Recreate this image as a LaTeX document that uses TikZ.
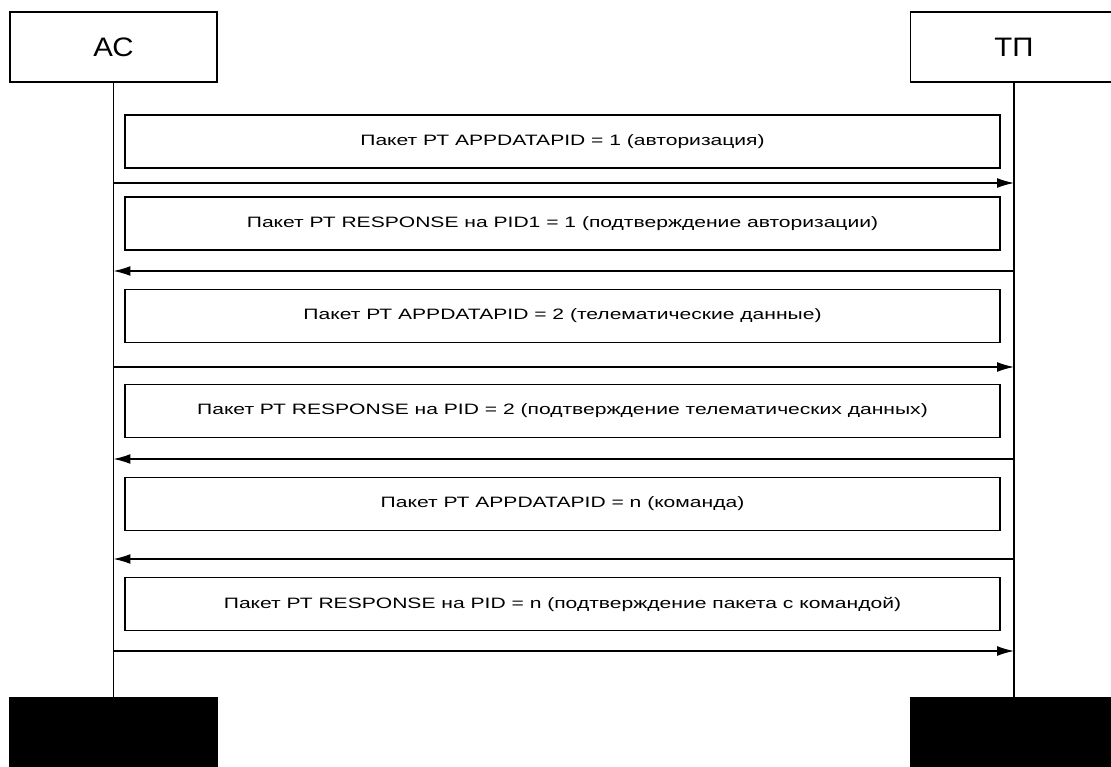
\documentclass[tikz,border=0pt]{standalone}
\usepackage{fontspec}
\setmainfont{Liberation Sans}
\usetikzlibrary{arrows.meta}

\newcommand{\stretchtxt}[2][1.4]{\scalebox{#1}[1]{#2}}

\tikzset{
  head/.style={draw, line width=0.9pt, minimum width=5.175cm, minimum height=1.75cm, font=\fontsize{19}{22}\selectfont},
  foot/.style={draw, fill=black, minimum width=5.175cm, minimum height=1.725cm},
  msg/.style={draw, line width=0.9pt, minimum width=21.875cm, minimum height=1.325cm, font=\fontsize{10.7}{13}\selectfont},
  call/.style={line width=0.9pt, -{Latex[length=12pt, width=7pt]}}
}

\begin{document}
\begin{tikzpicture}[x=0.025cm, y=-0.025cm, line width=0.9pt]
\useasboundingbox (0,0) rectangle (1111,767);

\node[head] (ac) at (113.5,47) {\stretchtxt[1.1]{АС}};
\node[head] (tp) at (1014,47) {\stretchtxt[1.1]{ТП}};
\node[foot] (acend) at (113.5,732.5) {};
\node[foot] (tpend) at (1014,732.5) {};

\draw (ac.south) -- (acend.north);
\draw (tp.south) -- (tpend.north);

\foreach \i/\y/\txt in {
  1/141.5/{Пакет РТ APPDATAPID = 1 (авторизация)},
  2/223.5/{Пакет РТ RESPONSE на PID1 = 1 (подтверждение авторизации)},
  3/316/{Пакет РТ APPDATAPID = 2 (телематические данные)},
  4/411/{Пакет РТ RESPONSE на PID = 2 (подтверждение телематических данных)},
  5/504/{Пакет РТ APPDATAPID = n (команда)},
  6/604/{Пакет РТ RESPONSE на PID = n (подтверждение пакета с командой)}} {
  \node[msg] (m\i) at (562.5,\y) {\stretchtxt{\txt}};
}

\foreach \i/\y in {1/183, 2/271, 3/367, 4/459, 5/559, 6/651} {
  \coordinate (a\i) at (ac.south |- 0,\y);
  \coordinate (t\i) at (tp.south |- 0,\y);
}

\draw[call] (a1) -- (t1);
\draw[call] (t2) -- (a2);
\draw[call] (a3) -- (t3);
\draw[call] (t4) -- (a4);
\draw[call] (t5) -- (a5);
\draw[call] (a6) -- (t6);
\end{tikzpicture}
\end{document}
